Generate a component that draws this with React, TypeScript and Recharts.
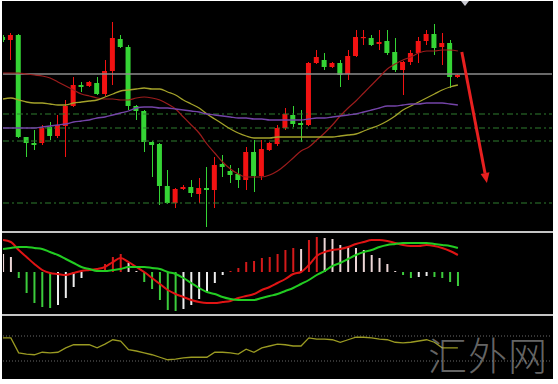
import React from 'react';
import { ComposedChart, Bar, Line, XAxis, YAxis, ReferenceLine, Cell } from 'recharts';

// ---- price candles (index points) ----
const openP = [193,190,195,93,87,87,103,94,104,124,145,144,147,136,159,191,183,124,119,88,86,44,27,41,43,36,42,40,66,59,56,50,78,54,80,86,102,115,107,105,167,170,163,167,156,174,192,192,186,189,178,160,168,177,189,196,183,187,153];
const highP = [195,197,196,93,100,105,108,115,130,153,148,149,153,170,208,195,185,125,120,89,87,60,42,45,50,52,63,73,75,65,62,83,90,90,88,105,122,124,120,168,180,177,168,170,180,200,200,195,200,200,192,169,180,193,200,206,197,190,156];
const lowP = [188,170,92,73,80,85,90,92,73,123,138,143,135,134,145,182,120,110,78,53,25,26,22,40,33,27,3,22,53,47,42,40,38,50,79,84,100,103,88,104,166,160,162,143,150,173,185,184,180,175,158,135,165,167,185,175,165,142,152];
const closeP = [190,195,93,87,85,102,94,105,124,145,143,148,136,159,192,183,124,119,88,85,44,27,41,43,37,42,40,65,63,55,50,78,54,81,87,102,116,106,105,167,173,163,167,155,174,193,193,185,188,177,160,168,177,189,196,182,187,153,155];

// ---- moving averages ----
const maFast = [157,157,157,156,155,154,152,148,144,140,136,134,132,131,131,130,130,132,133,132,130,126,121,113,105,97,86,77,68,61,56,53,53,53,55,59,65,72,79,83,90,97,105,114,122,129,137,145,153,161,166,170,173,177,179,179,180,180,179];
const maMid = [131,132,130,128,127,127,126,125,125,127,128,129,130,133,136,139,140,141,142,141,141,138,135,130,126,122,116,111,106,101,97,94,92,92,92,93,93,93,93,93,93,93,93,94,95,96,99,102,105,109,114,120,124,128,132,136,140,143,145];
const maSlow = [102,102,102,102,102,103,104,105,106,108,109,110,112,113,115,117,119,122,123,123,122,122,121,120,119,118,116,115,114,113,112,112,111,111,110,110,110,110,110,111,112,112,113,114,115,116,118,120,122,124,124,125,126,126,127,127,127,126,125];

// ---- horizontal levels ----
const solidLevels = [156];
const dashLevels = [116, 102, 89, 27];

// ---- MACD ----
const macdMain = [32,30,22,15,8,2,-1,-2,-3,-1,1,2,3,5,10,14,10,5,0,-6,-12,-18,-22,-25,-28,-30,-31,-31,-30,-29,-26,-24,-22,-18,-15,-11,-7,-2,0,7,16,20,22,23,25,28,30,32,32,31,29,27,26,26,27,26,24,21,17];
const macdSignal = [23,24,25,25,24,23,20,17,13,9,5,3,1,1,2,3,5,5,5,4,3,0,-2,-6,-11,-16,-20,-22,-25,-27,-28,-28,-28,-26,-24,-22,-19,-16,-12,-8,-3,1,6,9,13,17,20,22,25,27,28,29,29,29,29,28,27,26,24];
const macdHist = [18,15,-6,-21,-31,-35,-36,-33,-26,-15,-6,0,2,8,15,18,9,1,-10,-17,-28,-38,-39,-37,-33,-27,-20,-11,-3,1,4,10,11,14,15,18,22,24,23,32,35,34,33,27,25,24,22,17,14,8,1,-3,-6,-5,-4,-5,-6,-10,-14];

// ---- oscillator ----
const oscValues = [67,67,43,41,40,44,43,44,51,56,56,56,51,57,64,62,48,46,43,40,36,32,33,35,36,36,36,44,44,43,41,49,44,51,54,57,56,54,54,67,65,65,64,60,64,68,68,67,65,64,60,59,60,62,64,60,51,51,51];
const oscLevels = [70, 30];

// ---- arrow (index, price) ----
const arrowFrom = { i: 58.5, p: 178 };
const arrowTo = { i: 61.7, p: 47 };

const RED = '#f21212';
const GREEN = '#35d435';

const priceData = openP.map((o, i) => ({
  i, open: o, high: highP[i], low: lowP[i], close: closeP[i],
  maFast: maFast[i], maMid: maMid[i], maSlow: maSlow[i],
}));
const macdData = macdHist.map((h, i) => ({ i, hist: h, main: macdMain[i], signal: macdSignal[i] }));
const oscData = oscValues.map((v, i) => ({ i, osc: v }));

const histColor = (i: number) => {
  const v = macdHist[i];
  const prev = i > 0 ? macdHist[i - 1] : v;
  if (v >= 0) return v >= prev && i > 0 ? '#d41a1a' : '#ecd6d6';
  return v < prev ? '#3ccc3c' : '#eeeeee';
};

const Candle = (props: any) => {
  const { x, y, width, height, payload } = props;
  if (!payload) return null;
  const { open, close, high, low } = payload;
  const top = Math.min(y, y + height);
  const h = Math.abs(height);
  const ppu = h / (high - low);
  const bTop = top + (high - Math.max(open, close)) * ppu;
  const bBot = top + (high - Math.min(open, close)) * ppu;
  const color = close >= open ? RED : GREEN;
  const cx = Math.round(x + width / 2) + 0.5;
  return (
    <g>
      <line x1={cx} x2={cx} y1={top} y2={top + h} stroke={color} strokeWidth={1} />
      <rect x={x} y={bTop} width={width} height={Math.max(1.2, bBot - bTop)} fill={color} />
    </g>
  );
};

const Arrow = (p: any) => {
  const { x1, y1, x2, y2 } = p;
  const ang = Math.atan2(y2 - y1, x2 - x1);
  const L = 10, W = 4.5;
  const bx = x2 - L * Math.cos(ang), by = y2 - L * Math.sin(ang);
  const px = -Math.sin(ang) * W, py = Math.cos(ang) * W;
  return (
    <g>
      <line x1={x1} y1={y1} x2={bx} y2={by} stroke="#e82020" strokeWidth={3} />
      <polygon points={`${x2},${y2} ${bx + px},${by + py} ${bx - px},${by - py}`} fill="#e82020" />
    </g>
  );
};

const M = { top: 0, right: 6, bottom: 0, left: 3 };
const X = <XAxis type="number" dataKey="i" domain={[0, 70]} hide allowDataOverflow />;

export default function App() {
  return (
    <div style={{ position: 'absolute', left: 0, top: 0, width: 558, height: 384, background: '#ffffff', overflow: 'hidden' }}>
      <div style={{ position: 'absolute', left: 2, top: 1, width: 551, height: 378, background: '#000000' }} />
      <div style={{ position: 'absolute', left: 0, top: 0 }}>
        <ComposedChart width={558} height={231} data={priceData} margin={M}>
          {X}
          <YAxis hide domain={[-1, 230]} allowDataOverflow />
          {solidLevels.map((v) => (
            <ReferenceLine key={'s' + v} y={v} stroke="#8c8c8c" strokeWidth={1.4} />
          ))}
          {dashLevels.map((v) => (
            <ReferenceLine key={'d' + v} y={v} stroke="#2f7d2f" strokeWidth={1} strokeDasharray="6 3 2 3" />
          ))}
          <Bar dataKey={(d: any) => [d.low, d.high]} barSize={5} shape={(p: any) => <Candle {...p} />} isAnimationActive={false} />
          <Line dataKey="maFast" type="monotone" stroke="#9c1c1c" strokeWidth={1.2} dot={false} isAnimationActive={false} />
          <Line dataKey="maMid" type="monotone" stroke="#a4a22a" strokeWidth={1.3} dot={false} isAnimationActive={false} />
          <Line dataKey="maSlow" type="monotone" stroke="#7444a8" strokeWidth={1.3} dot={false} isAnimationActive={false} />
          <ReferenceLine
            segment={[{ x: arrowFrom.i, y: arrowFrom.p }, { x: arrowTo.i, y: arrowTo.p }]}
            shape={(p: any) => <Arrow {...p} />}
            ifOverflow="visible"
          />
        </ComposedChart>
      </div>
      <div style={{ position: 'absolute', left: 2, top: 231, width: 551, height: 2, background: '#c4c4c4' }} />
      <div style={{ position: 'absolute', left: 0, top: 233 }}>
        <ComposedChart width={558} height={81} data={macdData} margin={M}>
          {X}
          <YAxis hide domain={[-42, 39]} allowDataOverflow />
          <Bar dataKey="hist" barSize={2} isAnimationActive={false}>
            {macdData.map((d) => (
              <Cell key={d.i} fill={histColor(d.i)} />
            ))}
          </Bar>
          <Line dataKey="main" type="monotone" stroke="#e01414" strokeWidth={2} dot={false} isAnimationActive={false} />
          <Line dataKey="signal" type="monotone" stroke="#22cc22" strokeWidth={2} dot={false} isAnimationActive={false} />
        </ComposedChart>
      </div>
      <div style={{ position: 'absolute', left: 2, top: 314, width: 551, height: 2, background: '#c4c4c4' }} />
      <div style={{ position: 'absolute', left: 0, top: 316 }}>
        <ComposedChart width={558} height={62} data={oscData} margin={M}>
          {X}
          <YAxis hide domain={[2.8, 102]} allowDataOverflow />
          {oscLevels.map((v) => (
            <ReferenceLine key={v} y={v} stroke="#6a6a6a" strokeWidth={1} strokeDasharray="1 2" />
          ))}
          <Line dataKey="osc" type="linear" stroke="#9a9a22" strokeWidth={1.3} dot={false} isAnimationActive={false} />
        </ComposedChart>
      </div>
      <svg style={{ position: 'absolute', left: 0, top: 0 }} width={558} height={10}>
        <polygon points="461,1 469,1 465,6" fill="#c8c8d0" />
      </svg>
      <div
        style={{
          position: 'absolute', left: 428, top: 330, fontSize: 39, lineHeight: '46px',
          fontFamily: '"Noto Sans CJK SC", sans-serif', fontWeight: 300, color: 'rgba(170,170,170,0.6)',
          letterSpacing: 1, whiteSpace: 'nowrap',
        }}
      >
        汇外网
      </div>
    </div>
  );
}
